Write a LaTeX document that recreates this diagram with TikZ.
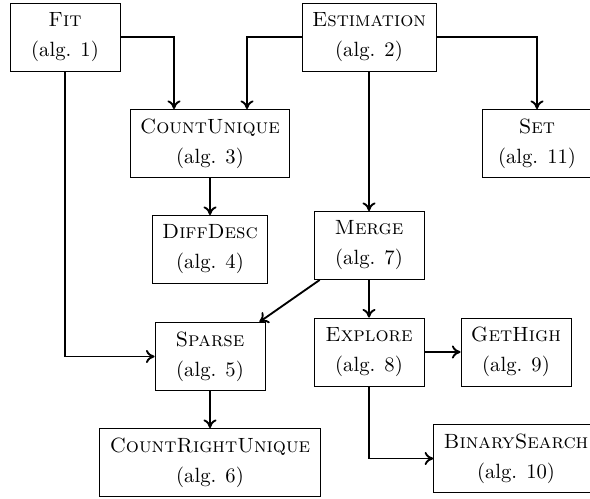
\documentclass[tikz,border=0pt]{standalone}
\usetikzlibrary{arrows.meta}
\begin{document}
\begin{tikzpicture}[x=0.485pt,y=-0.485pt,
  alg/.style={draw, line width=0.4pt, align=center, inner xsep=4.85pt,
    minimum width=53.35pt, minimum height=33pt},
  link/.style={-{To[length=4.2pt,width=6.4pt]}, line width=0.9pt}]
\clip (0,0) rectangle (590,499);
\node[alg] (fit)    at (65,37)    {\textsc{Fit}\\[2.55pt](alg. 1)};
\node[alg] (est)    at (369,37)   {\textsc{Estimation}\\[2.55pt](alg. 2)};
\node[alg] (cu)     at (210,143.5){\textsc{CountUnique}\\[2.55pt](alg. 3)};
\node[alg] (set)    at (537,143.5){\textsc{Set}\\[2.55pt](alg. 11)};
\node[alg] (dd)     at (210,249.5){\textsc{DiffDesc}\\[2.55pt](alg. 4)};
\node[alg] (merge)  at (369,245.5){\textsc{Merge}\\[2.55pt](alg. 7)};
\node[alg] (sparse) at (210,356.5){\textsc{Sparse}\\[2.55pt](alg. 5)};
\node[alg] (expl)   at (369,352)  {\textsc{Explore}\\[2.55pt](alg. 8)};
\node[alg] (gh)     at (516,352)  {\textsc{GetHigh}\\[2.55pt](alg. 9)};
\node[alg] (cru)    at (210,462.5){\textsc{CountRightUnique}\\[2.55pt](alg. 6)};
\node[alg] (bs)     at (516,458.5){\textsc{BinarySearch}\\[2.55pt](alg. 10)};

\draw[link] (fit.east) -| (cu.north -| 174,0);
\draw[link] (est.west) -| (cu.north -| 247,0);
\draw[link] (est.east) -| (set.north);
\draw[link] (fit.south) |- (sparse.west);
\draw[link] (cu.south) -- (dd.north);
\draw[link] (est.south) -- (merge.north);
\draw[link] (merge) -- (sparse);
\draw[link] (merge.south) -- (expl.north);
\draw[link] (expl.east) -- (gh.west);
\draw[link] (expl.south) |- (bs.west);
\draw[link] (sparse.south) -- (cru.north);
\end{tikzpicture}
\end{document}
